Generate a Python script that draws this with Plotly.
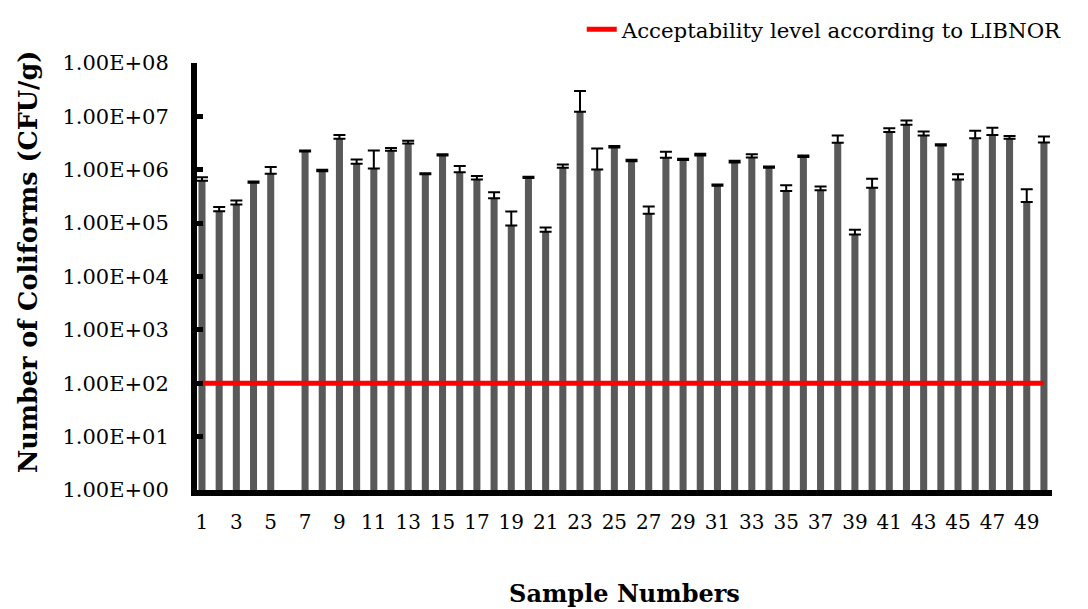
import plotly.graph_objects as go

samples = list(range(1, 51))
means = [6.2e5, 1.67e5, 2.24e5, 5.7e5, 8.4e5, None, 2.2e6, 9.4e5, 3.8e6, 1.3e6,
         1.05e6, 2.27e6, 3.1e6, 8.2e5, 1.85e6, 9.0e5, 6.6e5, 2.94e5, 9.0e4, 7.0e5,
         6.9e4, 1.09e6, 1.22e7, 1.01e6, 2.6e6, 1.45e6, 1.5e5, 1.68e6, 1.52e6, 1.85e6,
         5.0e5, 1.37e6, 1.7e6, 1.09e6, 4.0e5, 1.73e6, 4.15e5, 3.2e6, 6.1e4, 4.6e5,
         5.1e6, 7.0e6, 4.4e6, 2.86e6, 6.6e5, 3.9e6, 4.5e6, 3.8e6, 2.5e5, 3.25e6]
errors = [1.0e5, 3.3e4, 4.2e4, 3.0e4, 2.8e5, 0, 1.0e5, 6.0e4, 7.0e5, 2.5e5,
          1.25e6, 2.8e5, 4.0e5, 4.0e4, 1.1e5, 2.7e5, 1.0e5, 8.6e4, 7.5e4, 4.0e4,
          1.4e4, 1.7e5, 1.76e7, 1.49e6, 2.0e5, 9.0e4, 5.5e4, 4.9e5, 8.0e4, 1.5e5,
          3.0e4, 1.0e5, 2.6e5, 6.0e4, 1.1e5, 1.2e5, 7.2e4, 1.2e6, 1.4e4, 2.2e5,
          9.0e5, 1.4e6, 8.0e5, 1.4e5, 1.6e5, 1.5e6, 1.6e6, 5.0e5, 1.8e5, 9.5e5]
limit_value = 100
limit_name = "Acceptability level according to LIBNOR"
x_title = "Sample Numbers"
y_title = "Number of Coliforms (CFU/g)"

x_tick_vals = list(range(1, 50, 2))
y_tick_vals = [10 ** k for k in range(0, 9)]
y_tick_text = ["1.00E+0%d" % k for k in range(0, 9)]

FONT = "DejaVu Serif"

fig = go.Figure()
fig.add_trace(go.Bar(
    x=samples, y=means,
    marker=dict(color="#595959", line=dict(width=0)),
    error_y=dict(type="data", symmetric=False, array=errors,
                 arrayminus=[0] * len(errors), color="black",
                 thickness=2, width=6),
    showlegend=False,
))
fig.add_trace(go.Scatter(
    x=samples, y=[limit_value] * len(samples), mode="lines",
    line=dict(color="#ff0000", width=5), name=limit_name,
))

fig.update_layout(
    width=1088, height=609,
    margin=dict(l=189, r=44, t=55, b=127, autoexpand=False),
    plot_bgcolor="white", paper_bgcolor="white",
    bargap=0.59,
    font=dict(family=FONT, color="black"),
    legend=dict(x=0.45, y=1.1265, xanchor="left", yanchor="top",
                font=dict(family=FONT, size=21.3, color="black"),
                bgcolor="rgba(0,0,0,0)", borderwidth=0),
    xaxis=dict(range=[0.71, 50.47], tickvals=x_tick_vals,
               ticktext=[str(v) for v in x_tick_vals],
               showline=True, linewidth=6, linecolor="black",
               ticks="", showgrid=False, zeroline=False, automargin=False,
               tickfont=dict(family=FONT, size=20),
               ticklabelstandoff=9,
               title=dict(text="<b>%s</b>" % x_title,
                          font=dict(family=FONT, size=24), standoff=54)),
    yaxis=dict(type="log", range=[0, 8], tickvals=y_tick_vals,
               ticktext=y_tick_text,
               showline=True, linewidth=6, linecolor="black",
               ticks="inside", ticklen=6, tickwidth=5, tickcolor="black",
               showgrid=False, zeroline=False, automargin=False,
               tickfont=dict(family=FONT, size=21),
               ticklabelstandoff=18),
    annotations=[dict(text="<b>%s</b>" % y_title, textangle=-90,
                      xref="paper", yref="paper", x=-0.1977, y=0.534,
                      xanchor="center", yanchor="middle", showarrow=False,
                      font=dict(family=FONT, size=25.5, color="black"))],
)

fig.write_html("out.html")
